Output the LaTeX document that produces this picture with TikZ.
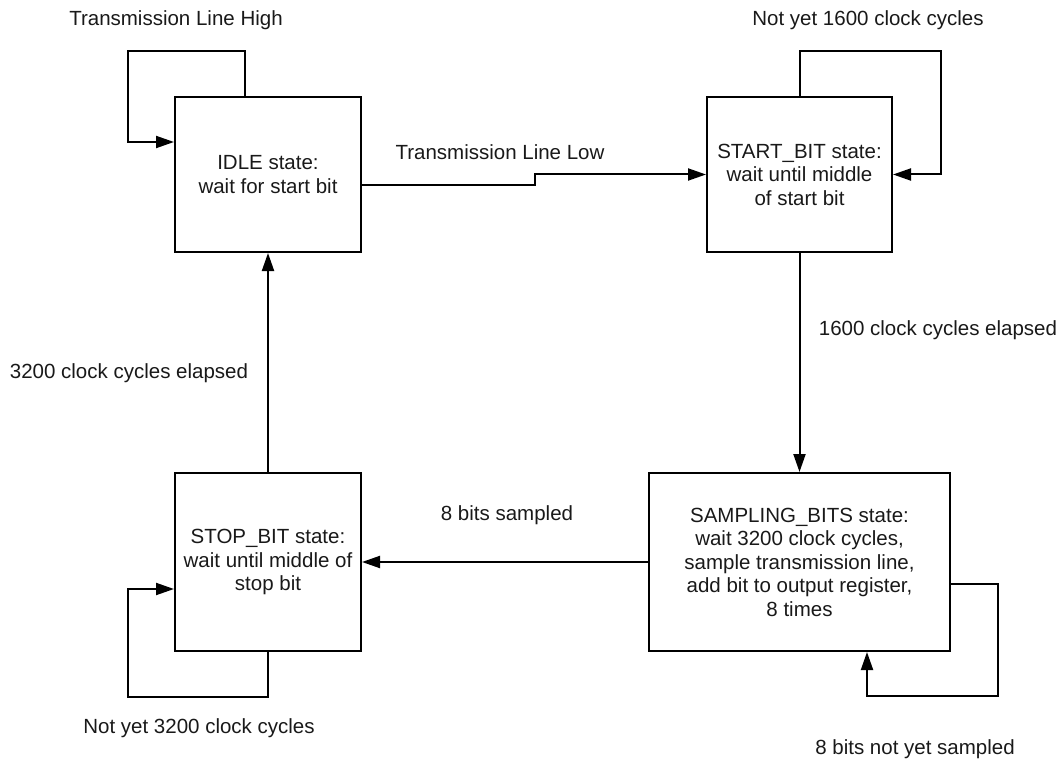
\documentclass[tikz,border=0pt]{standalone}
\usepackage{fontspec}
\setmainfont{Liberation Sans}
\usetikzlibrary{arrows.meta}
\begin{document}
\begin{tikzpicture}[x=1pt,y=1pt,
  every node/.style={font=\fontsize{20.5}{23.5}\selectfont, inner sep=0pt, text=black!90},
  statebox/.style={draw, line width=2pt, align=center},
  arr/.style={line width=2pt, -{Triangle[length=18pt,width=12pt]}},
  lbl/.style={anchor=center}]
\useasboundingbox (0,0) rectangle (1063,-762);
\node[statebox, minimum width=186pt, minimum height=155pt] (IDLE) at (268,-174.5) {IDLE state:\\wait for start bit};
\node[statebox, minimum width=185pt, minimum height=155pt] (START) at (799.5,-174.5) {START\_BIT state:\\wait until middle\\of start bit};
\node[statebox, minimum width=186pt, minimum height=178pt] (STOP) at (268,-562) {STOP\_BIT state:\\wait until middle of\\stop bit};
\node[statebox, minimum width=301pt, minimum height=178pt] (SAMP) at (799.5,-562) {SAMPLING\_BITS state:\\wait 3200 clock cycles,\\sample transmission line,\\add bit to output register,\\8 times};

\node[lbl] (lHigh) at (176,-20) {Transmission Line High};
\node[lbl] (lLow) at (500,-152) {Transmission Line Low};
\node[lbl] (l1600n) at (868,-20) {Not yet 1600 clock cycles};
\node[lbl] (l1600) at (938,-330) {1600 clock cycles elapsed};
\node[lbl] (l8s) at (507,-515) {8 bits sampled};
\node[lbl] (l8n) at (915,-749) {8 bits not yet sampled};
\node[lbl] (l3200) at (129,-373) {3200 clock cycles elapsed};
\node[lbl] (l3200n) at (199,-728) {Not yet 3200 clock cycles};

\draw[arr] ([xshift=-23pt]IDLE.north) -- ++(0,45) -- ++(-117,0) |- ([yshift=32.5pt]IDLE.west);
\draw[arr] ([yshift=-11pt]IDLE.east) -- ++(173,0) -- ++(0,11) -- (START.west);
\draw[arr] (START.north) -- ++(0,45) -| ([xshift=48pt]START.east) -- (START.east);
\draw[arr] (START.south) -- (SAMP.north);
\draw[arr] (SAMP.west) -- (STOP.east);
\draw[arr] ([yshift=-22pt]SAMP.east) -- ++(47,0) -- ++(0,-112) -| ([xshift=67.5pt]SAMP.south);
\draw[arr] (STOP.north) -- (IDLE.south);
\draw[arr] (STOP.south) -- ++(0,-45) -- ++(-140,0) |- ([yshift=-27pt]STOP.west);
\end{tikzpicture}
\end{document}
